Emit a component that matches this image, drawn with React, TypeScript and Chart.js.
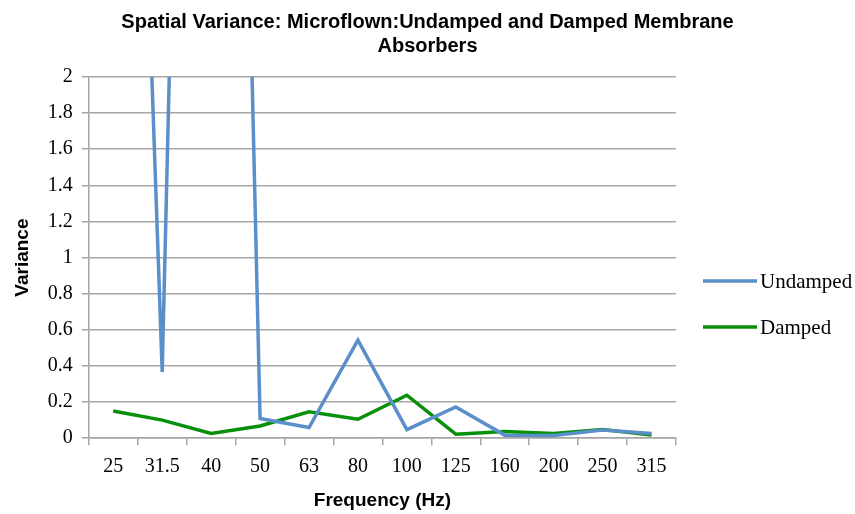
import React, { useEffect, useRef } from "react";
import { Chart, registerables } from "chart.js";

Chart.register(...registerables);

const categories = ["25", "31.5", "40", "50", "63", "80", "100", "125", "160", "200", "250", "315"];
const undamped = [8.1, 0.367, 11.7, 0.109, 0.059, 0.543, 0.047, 0.173, 0.017, 0.015, 0.045, 0.026];
const damped = [0.151, 0.1, 0.026, 0.068, 0.146, 0.105, 0.238, 0.022, 0.037, 0.026, 0.048, 0.018];
const seriesNames = ["Undamped", "Damped"];
const seriesColors = ["#5b8fc9", "#09900b"];
const titleLines = ["Spatial Variance: Microflown:Undamped and Damped Membrane", "Absorbers"];

const titlePlugin = {
  id: "centeredTitle",
  afterDraw(chart: any) {
    const { ctx, width } = chart;
    ctx.save();
    ctx.fillStyle = "#000";
    ctx.font = "bold 20px 'Liberation Sans'";
    ctx.textAlign = "center";
    ctx.textBaseline = "middle";
    titleLines.forEach((t, i) => ctx.fillText(t, width / 2, 22 + i * 24));
    ctx.restore();
  },
};

const legendPlugin = {
  id: "sideLegend",
  afterDraw(chart: any) {
    const { ctx, chartArea } = chart;
    ctx.save();
    const x0 = chartArea.right + 27;
    const ys = [chartArea.top + 204, chartArea.top + 250];
    chart.data.datasets.forEach((ds: any, i: number) => {
      ctx.strokeStyle = ds.borderColor;
      ctx.lineWidth = 3.5;
      ctx.beginPath();
      ctx.moveTo(x0, ys[i]);
      ctx.lineTo(x0 + 54, ys[i]);
      ctx.stroke();
      ctx.fillStyle = "#000";
      ctx.font = "21px 'Liberation Serif'";
      ctx.textBaseline = "middle";
      ctx.fillText(ds.label, x0 + 57, ys[i] + 1);
    });
    ctx.restore();
  },
};

export default function App() {
  const ref = useRef<HTMLCanvasElement>(null);
  useEffect(() => {
    document.body.style.margin = "0";
    const chart = new Chart(ref.current!, {
      type: "line",
      data: {
        labels: categories,
        datasets: [
          { label: seriesNames[0], data: undamped, borderColor: seriesColors[0], borderWidth: 3.5, pointRadius: 0, clip: 0 as any, tension: 0 },
          { label: seriesNames[1], data: damped, borderColor: seriesColors[1], borderWidth: 3.5, pointRadius: 0, clip: 0 as any, tension: 0 },
        ],
      },
      options: {
        animation: false,
        responsive: false,
        layout: { padding: { left: 0, right: 179, top: 77, bottom: 0 } },
        plugins: {
          legend: { display: false },
          tooltip: { enabled: false },
          title: { display: false },
        },
        scales: {
          x: {
            offset: true,
            grid: { display: true, drawOnChartArea: false, offset: true, color: "#a6a6a6", lineWidth: 1.5, tickLength: 7 },
            border: { color: "#a6a6a6", width: 1.5 },
            ticks: { color: "#000", font: { family: "'Liberation Serif'", size: 20 }, padding: 10, maxRotation: 0, autoSkip: false },
            title: { display: true, text: "Frequency (Hz)", color: "#000", font: { family: "'Liberation Sans'", size: 19, weight: "bold" }, padding: { top: 0, bottom: 2 } },
          },
          y: {
            min: 0,
            max: 2,
            ticks: {
              stepSize: 0.2,
              color: "#000",
              font: { family: "'Liberation Serif'", size: 20 },
              padding: 9,
              callback: (v: any) => String(Number(Number(v).toFixed(1))),
            },
            grid: { color: "#a6a6a6", lineWidth: 1.5, tickLength: 7 },
            border: { color: "#a6a6a6", width: 1.5 },
            title: { display: true, text: "Variance", color: "#000", font: { family: "'Liberation Sans'", size: 19, weight: "bold" }, padding: { top: 11, bottom: 5 } },
          },
        },
      },
      plugins: [titlePlugin, legendPlugin],
    });
    return () => chart.destroy();
  }, []);
  return (
    <div style={{ width: 855, height: 514, background: "#fff" }}>
      <canvas ref={ref} width={855} height={514} style={{ width: 855, height: 514, display: "block" }} />
    </div>
  );
}
